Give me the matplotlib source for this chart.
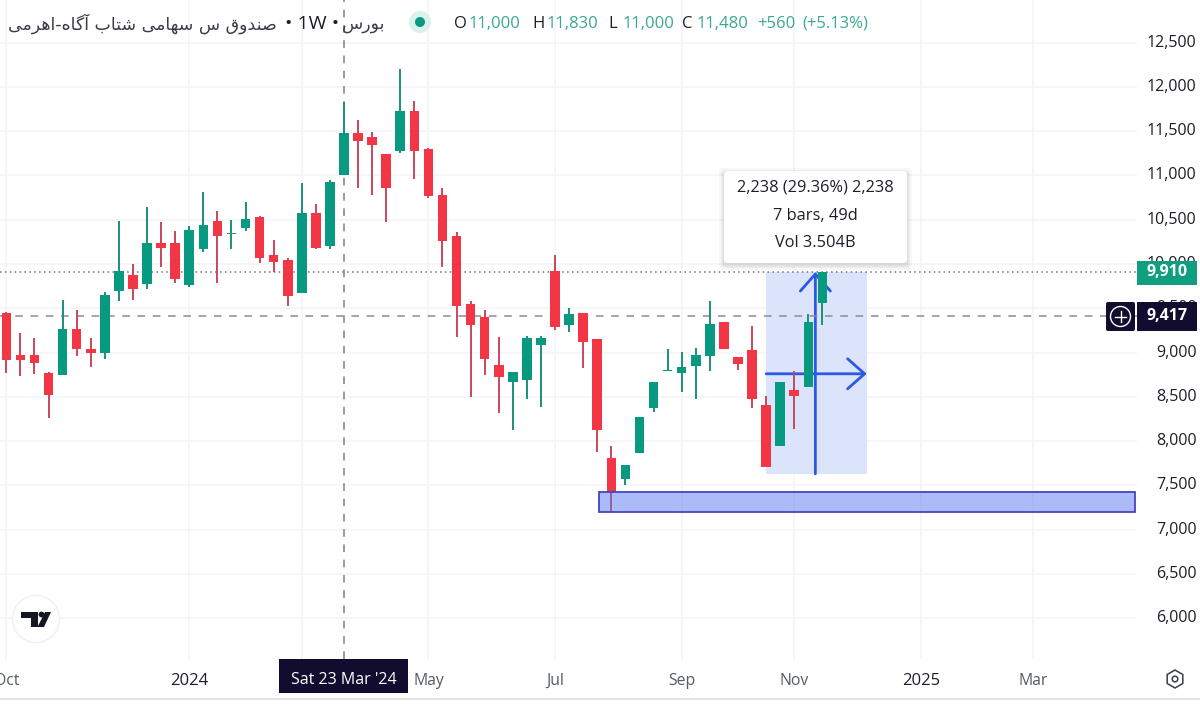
import matplotlib
matplotlib.use("Agg")
import matplotlib.pyplot as plt
from matplotlib.patches import Rectangle, FancyBboxPatch, Circle, Polygon, RegularPolygon

plt.rcParams["font.family"] = ["Open Sans", "DejaVu Sans"]

# weekly candles, index 0 is the week of 23 Mar '24
weeks = list(range(-24, 35))
opens = [9450, 8970, 8970, 8770, 8750, 9260, 9040, 8990, 9690, 9870, 9770, 10240, 10240, 9760, 10170,
         10490, 10340, 10410, 10530, 10100, 10040, 9670, 10570, 10200, 11000, 11480, 11430, 11240, 11280, 11730,
         11300, 10780, 10320, 9550, 9400, 8860, 8670, 8690, 9090, 9920, 9310, 9450, 9150, 7810, 7570,
         7870, 8370, 8790, 8770, 8850, 8960, 9350, 8950, 9030, 8410, 7940, 8580, 8610, 9560]
highs = [9460, 9220, 9160, 8780, 9590, 9480, 9160, 9680, 10480, 10000, 10640, 10470, 10370, 10430, 10810,
         10600, 10500, 10700, 10540, 10270, 10070, 10910, 10680, 10950, 11830, 11620, 11490, 11240, 12200, 11840,
         11310, 10860, 10360, 9580, 9480, 9180, 8780, 9190, 9190, 10100, 9500, 9450, 9150, 7940, 7730,
         8270, 8670, 9040, 9010, 9050, 9580, 9350, 8950, 9300, 8510, 8670, 8790, 9440, 9910]
lows = [8770, 8740, 8760, 8260, 8750, 8960, 8840, 8930, 9580, 9590, 9720, 9970, 9790, 9740, 10140,
        9780, 10170, 10370, 10010, 9910, 9530, 9670, 10170, 10170, 11000, 10860, 10780, 10470, 11250, 10960,
        10740, 9970, 9180, 8500, 8750, 8320, 8120, 8470, 8390, 9260, 9230, 8830, 7880, 7200, 7500,
        7870, 8330, 8790, 8550, 8470, 8790, 9040, 8800, 8370, 7710, 7940, 8140, 8610, 9310]
closes = [8920, 8920, 8880, 8520, 9270, 9040, 8990, 9650, 9920, 9720, 10240, 10180, 9830, 10380, 10440,
          10310, 10350, 10510, 10070, 10020, 9640, 10570, 10180, 10930, 11480, 11390, 11340, 10860, 11730, 11280,
          10770, 10260, 9530, 9310, 8930, 8720, 8780, 9160, 9160, 9290, 9430, 9120, 8120, 7430, 7730,
          8270, 8670, 8800, 8840, 8970, 9320, 9040, 8870, 8480, 7710, 8670, 8510, 9350, 9910]

price_ticks = [6000, 6500, 7000, 7500, 8000, 8500, 9000, 9500, 10000, 10500, 11000, 11500, 12000, 12500]
price_labels = ["6,000", "6,500", "7,000", "7,500", "8,000", "8,500", "9,000", "9,500", "10,000",
                "10,500", "11,000", "11,500", "12,000", "12,500"]
time_ticks = [-24, -11, -3, 6, 15, 24, 32, 41, 49]
# the first Mar sits under the crosshair date label, only its gridline shows
time_labels = ["Oct", "2024", "", "May", "Jul", "Sep", "Nov", "2025", "Mar"]

last_price = 9910
cross_price = 9417
measure_base = 7630
zone_low = 7203
zone_high = 7428

GREEN = "#089981"
RED = "#f23645"
DARK = "#120d2e"
BLUE = "#2b58e6"
TEXT = "#1c1f2a"


def shape_fa(s):
    # matplotlib has no bidi/shaping, so turn the Persian into joined forms in visual order
    forms = {"ب": "\ufe8f\ufe90\ufe91\ufe92", "ت": "\ufe95\ufe96\ufe97\ufe98", "س": "\ufeb1\ufeb2\ufeb3\ufeb4",
             "ش": "\ufeb5\ufeb6\ufeb7\ufeb8", "ص": "\ufeb9\ufeba\ufebb\ufebc", "ق": "\ufed5\ufed6\ufed7\ufed8",
             "گ": "\ufb92\ufb93\ufb94\ufb95", "م": "\ufee1\ufee2\ufee3\ufee4", "ن": "\ufee5\ufee6\ufee7\ufee8",
             "ه": "\ufee9\ufeea\ufeeb\ufeec", "ی": "\ufbfc\ufbfd\ufbfe\ufbff",
             "ا": "\ufe8d\ufe8e", "آ": "\ufe81\ufe82", "د": "\ufea9\ufeaa", "ر": "\ufead\ufeae", "و": "\ufeed\ufeee"}
    out = []
    for i, c in enumerate(s):
        if c not in forms:
            out.append(c)
            continue
        prev = s[i - 1] if i > 0 else " "
        nxt = s[i + 1] if i < len(s) - 1 else " "
        join_prev = prev in forms and len(forms[prev]) == 4
        join_next = nxt in forms and len(forms[c]) == 4
        out.append(forms[c][(3 if join_next else 1) if join_prev else (2 if join_next else 0)])
    return "".join(reversed(out))


fig = plt.figure(figsize=(12, 7.1), dpi=100)
ax = fig.add_axes([0, 51 / 710, 1137 / 1200, 659 / 710])
ax.set_xlim(-24.449, 56.36)
ax.set_ylim(5540, 12980)
for s in ax.spines.values():
    s.set_visible(False)

ax.set_yticks(price_ticks)
ax.set_yticklabels(price_labels, ha="right", va="center")
ax.set_xticks(time_ticks)
ax.set_xticklabels(time_labels, va="center")
ax.tick_params(axis="y", left=False, right=False, labelleft=False, labelright=True, length=0, pad=43, labelsize=11.5, labelcolor=TEXT)
ax.tick_params(axis="x", bottom=False, length=0, pad=15.5, labelsize=11.3, labelcolor="#555a66")
for lab in ax.get_xticklabels():
    if lab.get_text() in ("2024", "2025"):
        lab.set_color(TEXT)
        lab.set_fontsize(12)
        lab.set_fontweight("medium")
ax.grid(True, color="#f4f5f6", lw=1.2)
ax.set_axisbelow(True)

# measure tool goes under the candles
ax.add_patch(Rectangle((30, measure_base), 7.15, last_price - measure_base, fc="#dbe4fb", ec="none", zorder=1))
head = "->,head_length=0.34,head_width=0.3"
ax.annotate("", xy=(33.5, last_price), xytext=(33.5, measure_base), zorder=2,
            arrowprops=dict(arrowstyle=head, color=BLUE, lw=2, mutation_scale=36, shrinkA=0, shrinkB=0))
ax.annotate("", xy=(37.15, 8760), xytext=(30, 8760), zorder=2,
            arrowprops=dict(arrowstyle=head, color=BLUE, lw=2, mutation_scale=36, shrinkA=0, shrinkB=0))

# price lines
ax.axhline(last_price, color="#6f7480", lw=1.1, ls=(0, (1, 2.2)), zorder=2)
ax.axhline(cross_price, color="#8a8d96", lw=1.1, ls=(0, (5, 5)), zorder=2)
ax.axvline(0, color="#7d8089", lw=1.1, ls=(0, (5, 5)), zorder=2)

# candles
for w, o, h, l, c in zip(weeks, opens, highs, lows, closes):
    col = GREEN if c >= o else RED
    wick = "#1c8f78" if c >= o else "#c8485c"
    ax.vlines(w, l, h, color=wick, lw=1.4, zorder=3)
    ax.bar(w, abs(c - o), bottom=min(o, c), width=0.68, color=col, zorder=4)

# support zone, see-through over the candle below it
ax.add_patch(Rectangle((18.09, zone_low), 38.13, zone_high - zone_low, fc="#5878f0", alpha=0.5, ec="none", zorder=5))
ax.add_patch(Rectangle((18.09, zone_low), 38.13, zone_high - zone_low, fc="none", ec="#4a42bd", lw=1.3, zorder=5))

# everything else sits on a full-figure overlay in pixel coordinates
ov = fig.add_axes([0, 0, 1, 1], facecolor="none")
ov.set_xlim(0, 1200)
ov.set_ylim(710, 0)
ov.axis("off")

# header
ov.text(277, 24, shape_fa("صندوق س سهامی شتاب آگاه-اهرمی"), ha="right", va="center", fontsize=12.5, color="#3a3d48", family="DejaVu Sans")
ov.text(312, 24, "• 1W •", ha="center", va="center", fontsize=14, color=TEXT)
ov.text(385, 24, shape_fa("بورس"), ha="right", va="center", fontsize=12.5, color="#3a3d48", family="DejaVu Sans")
ov.add_patch(Circle((420, 22), 11, fc="#d9f2ec", ec="none"))
ov.add_patch(Circle((420, 22), 5, fc=GREEN, ec="none"))
for x, letter, val in [(454, "O", "11,000"), (532, "H", "11,830"), (608, "L", "11,000"), (682, "C", "11,480")]:
    ov.text(x, 24, letter, ha="left", va="center", fontsize=12, color=TEXT)
    ov.text(x + 14.5, 24, val, ha="left", va="center", fontsize=12, color="#3aa890")
ov.text(757, 24, "+560", ha="left", va="center", fontsize=12, color="#3aa890")
ov.text(802, 24, "(+5.13%)", ha="left", va="center", fontsize=12, color="#3aa890")

# measure tooltip
for grow, a in [(5, 0.03), (3, 0.04), (1.5, 0.05)]:
    ov.add_patch(FancyBboxPatch((724 - grow, 171 - grow + 2), 183 + 2 * grow, 92 + 2 * grow,
                                boxstyle="round,pad=0,rounding_size=4", fc="black", alpha=a, ec="none"))
ov.add_patch(FancyBboxPatch((724, 171), 183, 92, boxstyle="round,pad=0,rounding_size=4", fc="white", ec="none"))
ov.text(815, 187, "2,238 (29.36%) 2,238", ha="center", va="center", fontsize=11.8, color=TEXT)
ov.text(815, 216, "7 bars, 49d", ha="center", va="center", fontsize=11.8, color=TEXT)
ov.text(815, 243, "Vol 3.504B", ha="center", va="center", fontsize=11.8, color=TEXT)

# price scale labels
ov.add_patch(Rectangle((1137, 261), 60, 23.5, fc="#0f9f80", ec="none"))
ov.text(1167, 272.5, "9,910", ha="center", va="center", fontsize=11.5, color="white", fontweight="bold")
ov.add_patch(FancyBboxPatch((1106, 302), 29, 29, boxstyle="round,pad=0,rounding_size=2", fc=DARK, ec="none"))
ov.add_patch(Rectangle((1137, 302), 60, 29, fc=DARK, ec="none"))
ov.text(1167, 316, "9,417", ha="center", va="center", fontsize=11.5, color="white", fontweight="bold")
ov.add_patch(Circle((1120.5, 316.5), 10, fc="none", ec="white", lw=1))
ov.plot([1115, 1126], [316.5, 316.5], color="white", lw=1)
ov.plot([1120.5, 1120.5], [311, 322], color="white", lw=1)

# crosshair date label
ov.add_patch(Rectangle((279, 659), 129, 34, fc=DARK, ec="none"))
ov.text(343.5, 680, "Sat 23 Mar '24", ha="center", va="center", fontsize=11.5, color="white")

# bottom line and settings icon
ov.plot([0, 1200], [699, 699], color="#dedfe3", lw=1.2)
ov.add_patch(RegularPolygon((1175, 679), 6, radius=9, fc="none", ec="#3a3d48", lw=1.1))
ov.add_patch(Circle((1175, 679), 2.8, fc="none", ec="#3a3d48", lw=1.1))

# TV logo
ov.add_patch(Circle((36, 619), 23.5, fc="white", ec="#eeeff2", lw=1))
ov.add_patch(Polygon([(21, 612), (38, 612), (38, 627), (31, 627), (31, 618), (21, 618)], fc="#131722", ec="none"))
ov.add_patch(Circle((41.5, 614.5), 2.9, fc="#131722", ec="none"))
ov.add_patch(Polygon([(45, 612), (51, 612), (44, 627), (37.5, 627)], fc="#131722", ec="none"))

fig.savefig("out.png", dpi=100, facecolor="white")
